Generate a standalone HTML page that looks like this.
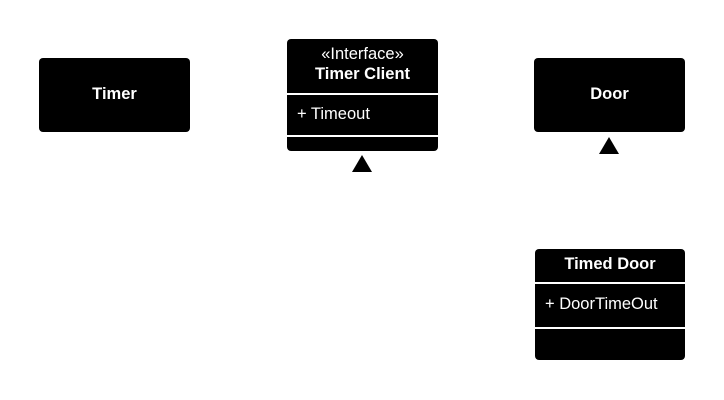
<!DOCTYPE html>
<html><head><style>
body{margin:0;width:724px;height:400px;background:#fff;position:relative;overflow:hidden;font-family:"Liberation Sans",sans-serif;color:#fff}
.b{position:absolute;background:#000;border-radius:4px}
.t{position:absolute;left:0;right:0;text-align:center;font-size:16.5px;line-height:18px}
.l{position:absolute;left:0;right:0;height:2px;background:#fff}
.tri{position:absolute;width:0;height:0;border-left:10px solid transparent;border-right:10px solid transparent;border-bottom:17px solid #000}
</style></head><body>
<div class="b" style="left:39px;top:58px;width:151px;height:74px"><div class="t" style="top:27px;font-weight:bold">Timer</div></div>
<div class="b" style="left:287px;top:39px;width:151px;height:112px">
<div class="t" style="top:6px">«Interface»</div>
<div class="t" style="top:26px;font-weight:bold">Timer Client</div>
<div class="l" style="top:54px"></div>
<div class="t" style="top:66px;text-align:left;left:10px">+ Timeout</div>
<div class="l" style="top:96px"></div>
</div>
<div class="tri" style="left:352px;top:155px"></div>
<div class="b" style="left:534px;top:58px;width:151px;height:74px"><div class="t" style="top:27px;font-weight:bold">Door</div></div>
<div class="tri" style="left:599px;top:137px"></div>
<div class="b" style="left:535px;top:249px;width:150px;height:111px">
<div class="t" style="top:6px;font-weight:bold">Timed Door</div>
<div class="l" style="top:33px"></div>
<div class="t" style="top:46px;text-align:left;left:10px">+ DoorTimeOut</div>
<div class="l" style="top:78px"></div>
</div>
</body></html>
